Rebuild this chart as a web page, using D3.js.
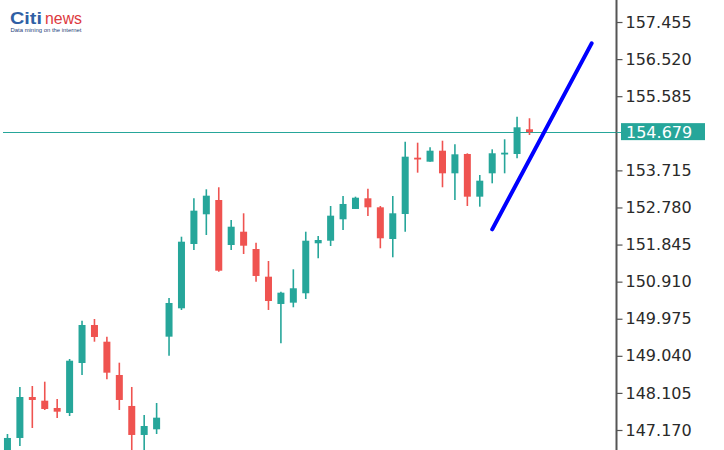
<!DOCTYPE html>
<html>
<head>
<meta charset="utf-8">
<script src="https://cdn.jsdelivr.net/npm/d3@7"></script>
<style>
  html, body { margin: 0; padding: 0; background: #ffffff; }
  svg { display: block; }
</style>
</head>
<body>
<svg id="chart" width="724" height="450"></svg>
<script>
// ---- data ----
const opens  = [146.364,146.969,148.002,147.909,147.725,147.599,148.859,149.817,149.396,148.557,147.776,147.045,147.188,149.523,150.238,151.859,152.608,152.968,151.834,152.169,151.733,151.035,150.347,150.380,150.617,151.877,151.942,152.482,152.742,153.011,152.784,151.985,152.615,154.035,153.934,154.211,153.641,154.128,153.052,153.641,154.128,154.128,154.751];
const highs  = [147.070,148.255,148.280,148.388,147.952,148.960,149.926,149.969,149.523,148.867,148.255,147.549,147.851,150.498,152.043,153.011,153.238,153.289,152.464,152.633,151.892,151.431,150.657,151.221,152.169,152.061,152.817,153.069,153.052,153.253,152.817,153.069,154.438,154.413,154.297,154.463,154.372,154.145,153.599,154.246,154.499,155.068,155.028];
const lows   = [146.213,146.767,147.221,147.675,147.473,147.523,148.557,149.396,148.449,147.675,146.540,146.540,147.070,149.044,150.196,151.708,152.086,151.160,151.708,151.607,150.909,150.196,149.356,150.264,150.473,151.499,151.809,152.212,152.742,152.565,151.751,151.524,152.169,153.657,153.934,153.289,152.968,152.817,152.800,153.389,153.641,154.020,154.607];
const closes = [146.969,148.002,147.927,147.700,147.632,148.917,149.817,149.515,148.615,147.927,147.045,147.271,147.481,150.372,151.917,152.699,153.077,151.186,152.295,151.816,151.053,150.422,150.632,150.743,151.942,151.960,152.573,152.868,153.026,152.784,152.003,152.633,154.060,154.002,154.211,153.641,154.120,153.052,153.455,154.146,154.161,154.801,154.679];
const tickLabels = ["147.170","148.105","149.040","149.975","150.910","151.845","152.780","153.715","154.679","155.585","156.520","157.455"];
const currentPrice = 154.679;
const trendIndex = [39, 47];
const trendPrice = [152.229, 156.918];

const candles = opens.map((o, i) => ({i, o, h: highs[i], l: lows[i], c: closes[i]}));
const trend = trendIndex.map((t, k) => ({i: t, p: trendPrice[k]}));

// ---- layout ----
const W = 724, H = 450;
const axisX = 616.5;
const UP = "#26a69a", DOWN = "#ef5350";

const svg = d3.select("#chart");

const x = d3.scaleLinear().domain([-0.6, 49]).range([0, axisX]);
const y = d3.scaleLinear().domain([146.666, 158.010]).range([H, 0]);

const plot = svg.append("g");
svg.append("clipPath").attr("id", "plotclip")
  .append("rect").attr("x", 0).attr("y", 0).attr("width", axisX).attr("height", H);
plot.attr("clip-path", "url(#plotclip)");

// current price line
plot.append("line")
  .attr("x1", 3).attr("x2", axisX)
  .attr("y1", Math.round(y(currentPrice)) + 0.5).attr("y2", Math.round(y(currentPrice)) + 0.5)
  .attr("stroke", UP).attr("stroke-width", 1);

// candles
const bodyW = 7;
const cg = plot.selectAll("g.candle").data(candles).enter().append("g").attr("class", "candle");
cg.append("line")
  .attr("x1", d => x(d.i)).attr("x2", d => x(d.i))
  .attr("y1", d => y(d.h)).attr("y2", d => y(d.l))
  .attr("stroke", d => d.c >= d.o ? UP : DOWN)
  .attr("stroke-width", 1.6);
cg.append("rect")
  .attr("x", d => x(d.i) - bodyW / 2)
  .attr("width", bodyW)
  .attr("y", d => y(Math.max(d.o, d.c)))
  .attr("height", d => Math.max(1.8, Math.abs(y(d.o) - y(d.c))))
  .attr("fill", d => d.c >= d.o ? UP : DOWN);

// trend line
plot.append("path")
  .datum(trend)
  .attr("d", d3.line().x(d => x(d.i)).y(d => y(d.p)))
  .attr("stroke", "#0000ff").attr("stroke-width", 4)
  .attr("stroke-linecap", "round").attr("fill", "none");

// axis
const axis = d3.axisRight(y)
  .tickValues(tickLabels.map(Number))
  .tickFormat(d3.format(".3f"))
  .tickSize(6).tickPadding(3);
const ag = svg.append("g").attr("transform", `translate(${axisX},0)`).call(axis);
ag.select(".domain").remove();
ag.append("line").attr("x1", 0).attr("x2", 0).attr("y1", 0).attr("y2", H)
  .attr("stroke", "#555").attr("stroke-width", 2);
ag.selectAll(".tick line").attr("stroke", "#555").attr("stroke-width", 1.2);
ag.selectAll(".tick text")
  .attr("fill", "#2a2a2a")
  .style("font-family", "'DejaVu Sans', Verdana, sans-serif")
  .style("font-size", "16px");
// the current-price tick is drawn as a label box instead
ag.selectAll(".tick").filter(d => Math.abs(d - currentPrice) < 1e-6).remove();

// current price label
const py = y(currentPrice);
svg.append("rect")
  .attr("x", axisX + 4.5).attr("y", py - 9).attr("width", 84).attr("height", 17)
  .attr("fill", UP);
svg.append("line")
  .attr("x1", axisX).attr("x2", axisX + 5)
  .attr("y1", Math.round(py) + 0.5).attr("y2", Math.round(py) + 0.5)
  .attr("stroke", UP).attr("stroke-width", 1);
svg.append("text")
  .attr("x", axisX + 9.5).attr("y", py)
  .attr("dy", "0.36em")
  .attr("fill", "#ffffff")
  .style("font-family", "'DejaVu Sans', Verdana, sans-serif")
  .style("font-size", "16px")
  .text(d3.format(".3f")(currentPrice));

// logo
const logo = svg.append("g");
logo.append("text")
  .attr("x", 10).attr("y", 23.5)
  .attr("textLength", 32).attr("lengthAdjust", "spacingAndGlyphs")
  .attr("fill", "#2f5fa5")
  .style("font-family", "'Liberation Sans', Arial, sans-serif")
  .style("font-weight", "bold").style("font-size", "17px")
  .text("Citi");
logo.append("text")
  .attr("x", 45).attr("y", 23.5)
  .attr("textLength", 37).attr("lengthAdjust", "spacingAndGlyphs")
  .attr("fill", "#dd3a40")
  .style("font-family", "'Liberation Sans', Arial, sans-serif")
  .style("font-size", "17px")
  .text("news");
logo.append("text")
  .attr("x", 10.5).attr("y", 32)
  .attr("textLength", 71).attr("lengthAdjust", "spacingAndGlyphs")
  .attr("fill", "#27437a")
  .style("font-family", "'Liberation Sans', Arial, sans-serif")
  .style("font-size", "5.5px")
  .text("Data mining on the internet");
</script>
</body>
</html>
